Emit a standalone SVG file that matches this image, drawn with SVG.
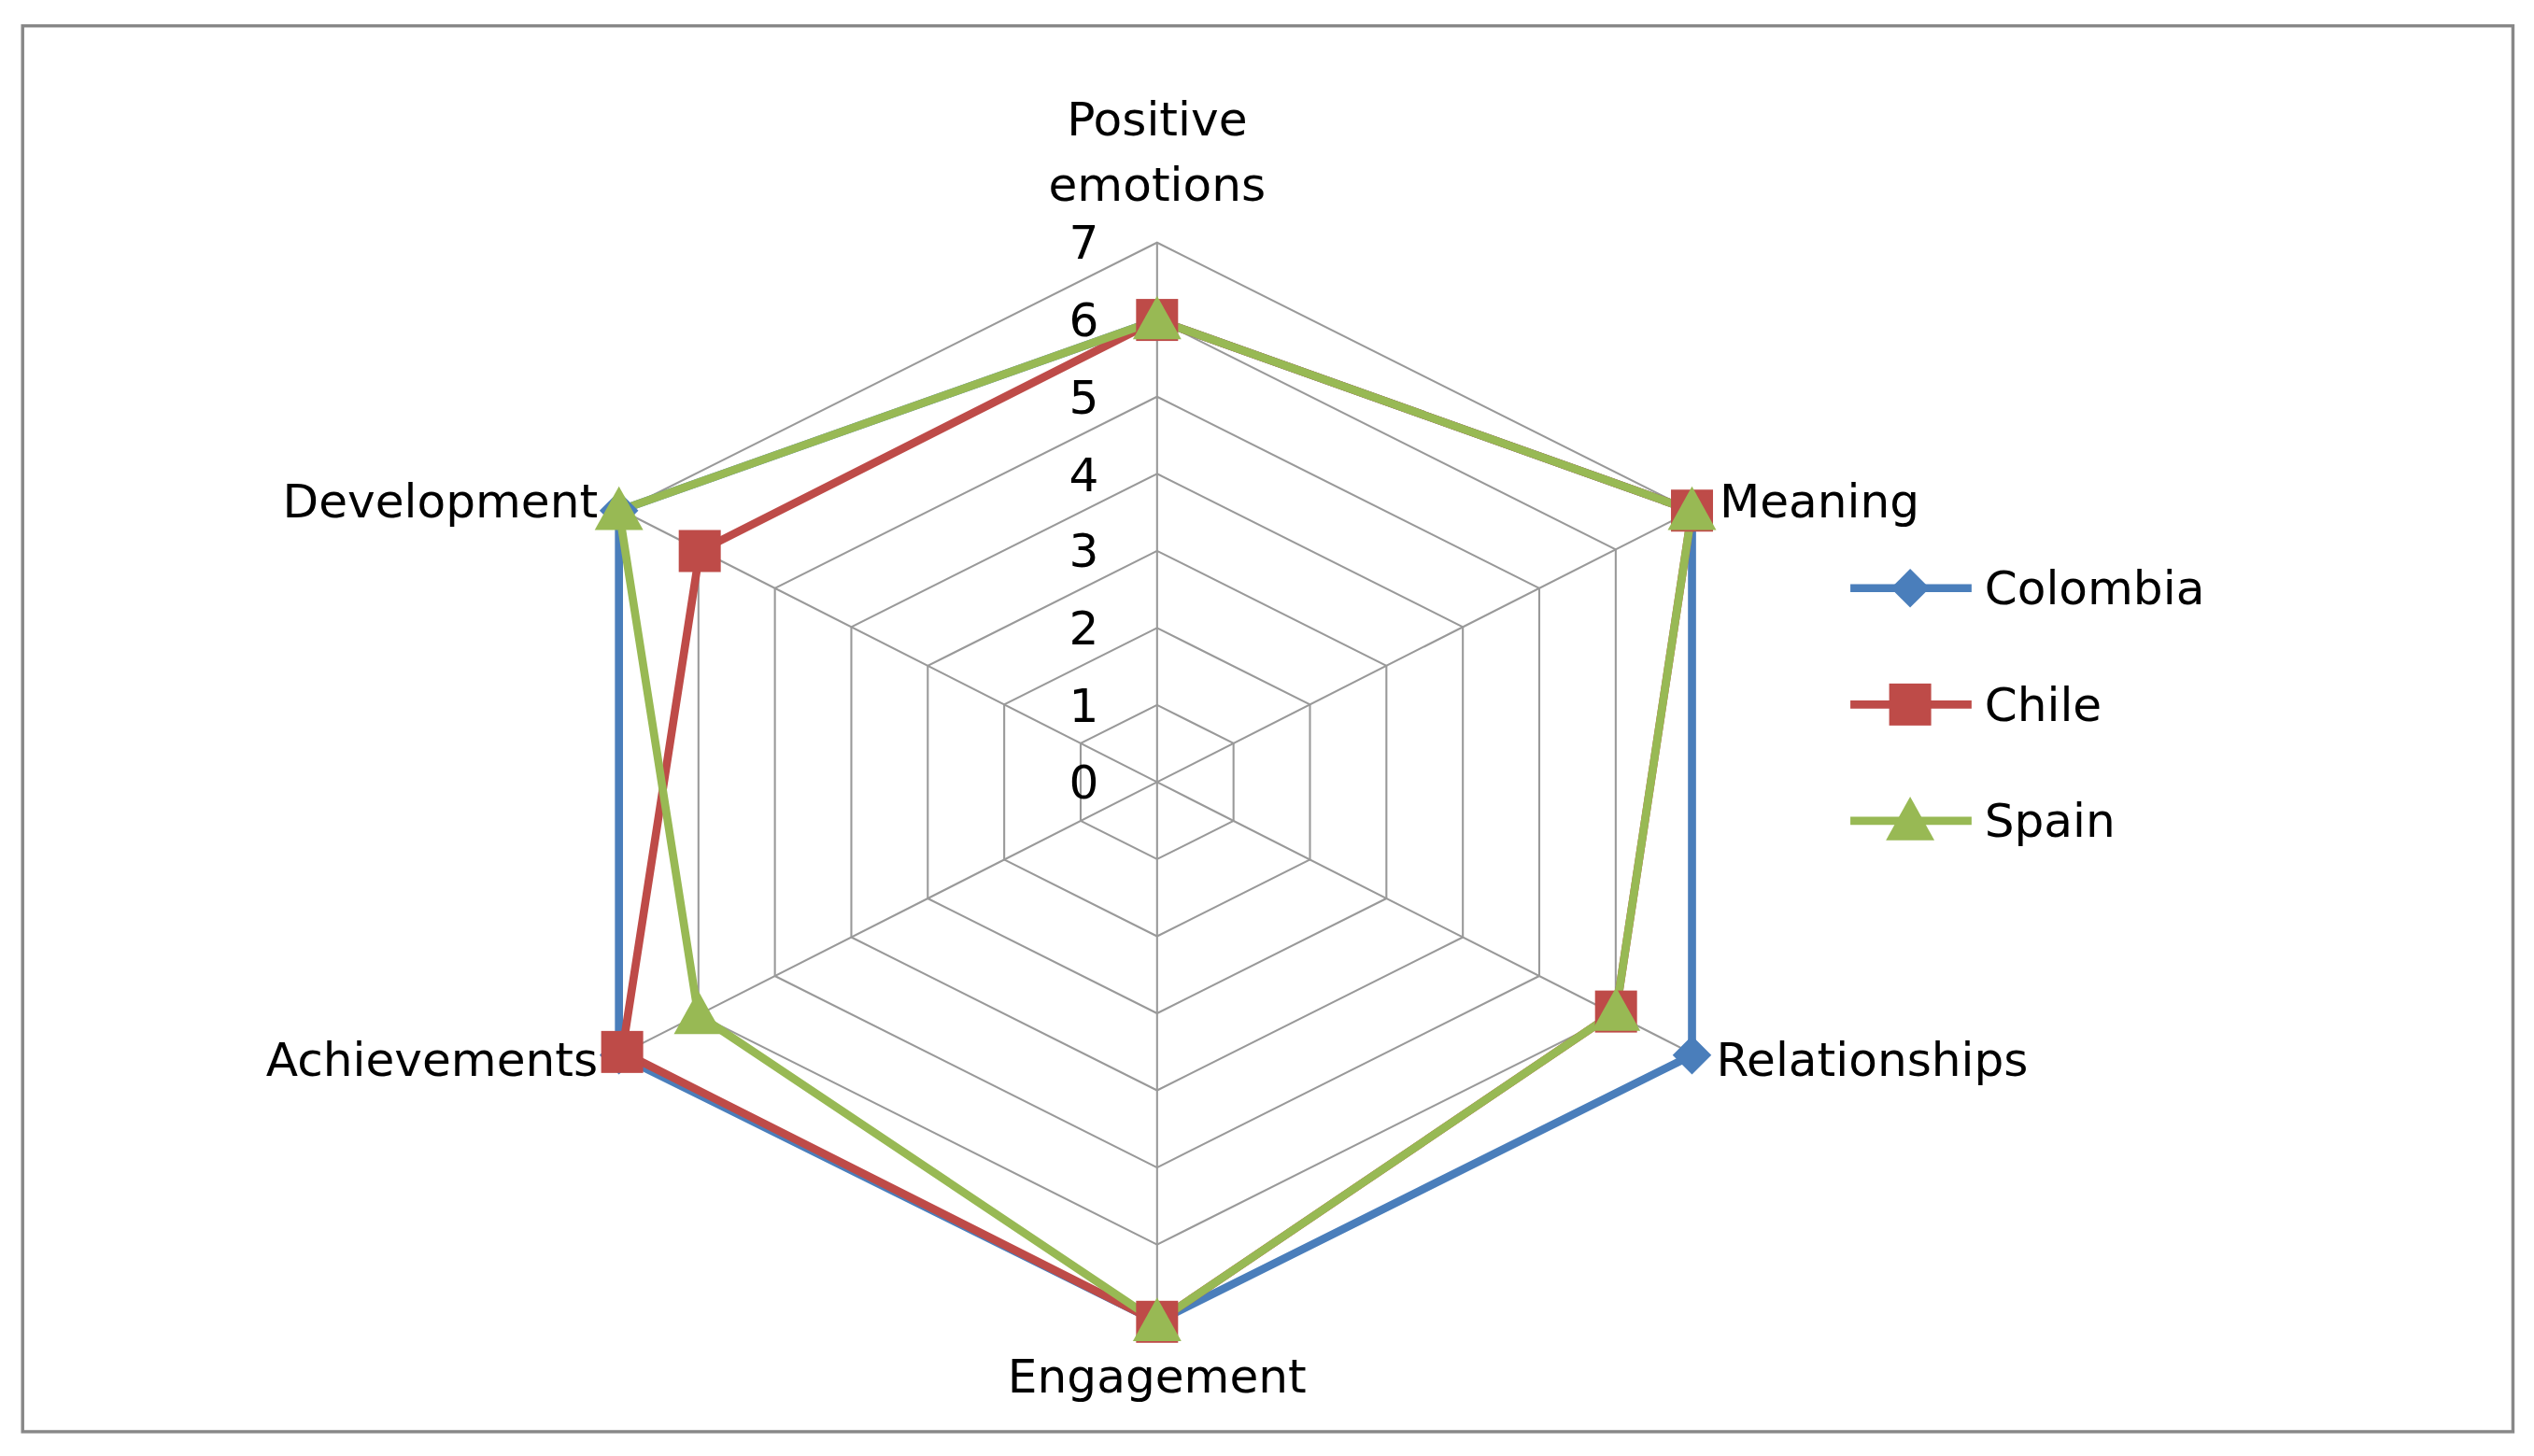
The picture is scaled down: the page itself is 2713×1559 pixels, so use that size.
<svg xmlns="http://www.w3.org/2000/svg" width="2713" height="1559" viewBox="0 0 2713 1559">
<style>
.t{font-family:"DejaVu Sans","Liberation Sans",sans-serif;font-size:29px;fill:#000}
.g{fill:none;stroke:#999;stroke-width:1.2}
.s{fill:none;stroke-width:5;stroke-linejoin:round}
</style>
<defs>
<path id="dia" d="M0,-12 L12,0 L0,12 L-12,0Z" fill="#4a7ebb"/>
<rect id="sq" x="-13" y="-13" width="26" height="26" fill="#be4b48"/>
<path id="tri" d="M0,-15 L15,12 L-15,12Z" fill="#98b954"/>
</defs>
<rect width="2713" height="1559" fill="#fff"/>
<g transform="scale(1.7302)">
<rect x="14" y="16" width="1541" height="870" fill="#fff" stroke="#888" stroke-width="2"/>
<g id="grid">
<polygon class="g" points="716,436.3 763.3,460 763.3,508 716,531.7 668.7,508 668.7,460"/>
<polygon class="g" points="716,388.6 810.6,436 810.6,532 716,579.4 621.4,532 621.4,436"/>
<polygon class="g" points="716,340.9 857.9,412 857.9,556 716,627.1 574.1,556 574.1,412"/>
<polygon class="g" points="716,293.2 905.2,388 905.2,580 716,674.8 526.8,580 526.8,388"/>
<polygon class="g" points="716,245.5 952.5,364 952.5,604 716,722.5 479.5,604 479.5,364"/>
<polygon class="g" points="716,197.8 999.8,340 999.8,628 716,770.2 432.2,628 432.2,340"/>
<polygon class="g" points="716,150.1 1047.1,316 1047.1,652 716,817.9 384.9,652 384.9,316"/>
<path class="g" d="M716,484V150.1M716,484L1047.1,316M716,484L1047.1,652M716,484V817.9M716,484L384.9,652M716,484L384.9,316"/>
</g>
<g id="axis-labels" class="t" text-anchor="end">
<text x="680" y="494">0</text><text x="680" y="447">1</text><text x="680" y="399">2</text><text x="680" y="351">3</text><text x="680" y="304">4</text><text x="680" y="256">5</text><text x="680" y="208">6</text><text x="680" y="160">7</text>
</g>
<g id="cat-labels" class="t">
<text x="716" y="84" text-anchor="middle">Positive</text>
<text x="716" y="124" text-anchor="middle">emotions</text>
<text x="1064" y="320">Meaning</text>
<text x="1062" y="666">Relationships</text>
<text x="716" y="862" text-anchor="middle">Engagement</text>
<text x="370" y="666" text-anchor="end">Achievements</text>
<text x="370" y="320" text-anchor="end">Development</text>
</g>
<g id="connectors">
<polygon class="s" stroke="#4a7ebb" points="716,198 1047,316 1047,653 716,818 383,653 383,316"/>
<polygon class="s" stroke="#be4b48" points="716,198 1047,316 1000,626 716,818 385,651 433,341"/>
<polygon class="s" stroke="#98b954" points="716,198 1047,316 1000,626 716,818 432,628 383,316"/>
</g>
<g id="colombia">
<use href="#dia" x="716" y="198"/><use href="#dia" x="1047" y="316"/><use href="#dia" x="1047" y="653"/><use href="#dia" x="716" y="818"/><use href="#dia" x="383" y="653"/><use href="#dia" x="383" y="316"/>
</g>
<g id="chile">
<use href="#sq" x="716" y="198"/><use href="#sq" x="1047" y="316"/><use href="#sq" x="1000" y="626"/><use href="#sq" x="716" y="818"/><use href="#sq" x="385" y="651"/><use href="#sq" x="433" y="341"/>
</g>
<g id="spain">
<use href="#tri" x="716" y="198"/><use href="#tri" x="1047" y="316"/><use href="#tri" x="1000" y="626"/><use href="#tri" x="716" y="818"/><use href="#tri" x="432" y="628"/><use href="#tri" x="383" y="316"/>
</g>
<g id="legend">
<line x1="1145" y1="364" x2="1220" y2="364" stroke="#4a7ebb" stroke-width="5"/><use href="#dia" x="1182" y="364"/>
<text class="t" x="1228" y="374">Colombia</text>
<line x1="1145" y1="436" x2="1220" y2="436" stroke="#be4b48" stroke-width="5"/><use href="#sq" x="1182" y="436"/>
<text class="t" x="1228" y="446">Chile</text>
<line x1="1145" y1="508" x2="1220" y2="508" stroke="#98b954" stroke-width="5"/><use href="#tri" x="1182" y="508"/>
<text class="t" x="1228" y="518">Spain</text>
</g>
</g>
</svg>
